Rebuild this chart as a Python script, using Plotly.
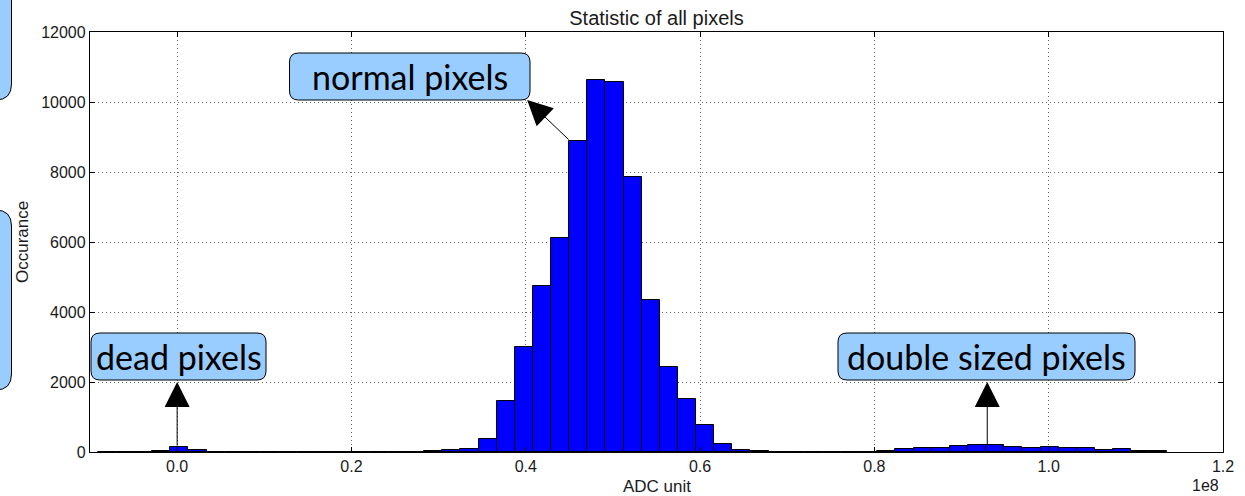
import plotly.graph_objects as go

# ---------------- data ----------------
bin_start = -9.1e6      # ADC units, left edge of first histogram bin
bin_width = 2.08e6      # ADC units
counts = [5, 8, 10, 15, 140, 55,
          3, 2, 1, 1, 1, 1, 1, 1, 2, 2, 3, 5,
          15, 48, 95, 371, 1457, 3009, 4733, 6114, 8886, 10629, 10571, 7857,
          4352, 2429, 1514, 780, 219, 48, 20,
          1, 1, 1, 2,
          8, 10, 25, 75, 110, 110, 170, 210, 190, 145, 120, 130, 110, 110, 60, 95, 20, 20]
x_tickvals = [0, 0.2e8, 0.4e8, 0.6e8, 0.8e8, 1.0e8, 1.2e8]
x_ticktext = ["0.0", "0.2", "0.4", "0.6", "0.8", "1.0", "1.2"]
y_tickvals = [0, 2000, 4000, 6000, 8000, 10000, 12000]
y_ticktext = [str(v) for v in y_tickvals]

centers = [bin_start + (i + 0.5) * bin_width for i in range(len(counts))]

# ---------------- layout geometry ----------------
W, H = 1245, 496
ML, MR, MT, MB = 90, 22, 32, 44
PW, PH = W - ML - MR, H - MT - MB


def px2paper(px, py):
    return (px - ML) / PW, (H - MB - py) / PH


def rounded_box(x0, y0, x1, y1, r=9):
    # pixel coords (y down) -> paper path
    ax0, ay1 = px2paper(x0, y0)
    ax1, ay0 = px2paper(x1, y1)
    rx, ry = r / PW, r / PH
    p = (f"M{ax0+rx},{ay1} L{ax1-rx},{ay1} Q{ax1},{ay1} {ax1},{ay1-ry} "
         f"L{ax1},{ay0+ry} Q{ax1},{ay0} {ax1-rx},{ay0} "
         f"L{ax0+rx},{ay0} Q{ax0},{ay0} {ax0},{ay0+ry} "
         f"L{ax0},{ay1-ry} Q{ax0},{ay1} {ax0+rx},{ay1} Z")
    return dict(type="path", path=p, xref="paper", yref="paper",
                fillcolor="#99ccff", line=dict(color="black", width=1),
                layer="above")


fig = go.Figure()
fig.add_trace(go.Bar(x=centers, y=counts, width=bin_width,
                     marker=dict(color="#0000ff", line=dict(color="black", width=1)),
                     showlegend=False))

TXT = "#1a1a1a"
axis_common = dict(showline=True, linecolor="black", linewidth=1.3, mirror="allticks",
                   ticks="inside", ticklen=5, tickcolor="black",
                   showgrid=True, gridcolor="#666", griddash="1px,3px", gridwidth=1,
                   zeroline=False, automargin=False,
                   tickfont=dict(family="Liberation Sans", size=16, color=TXT))

fig.update_layout(
    width=W, height=H,
    margin=dict(l=ML, r=MR, t=MT, b=MB),
    paper_bgcolor="white", plot_bgcolor="white",
    bargap=0,
    title=dict(text="Statistic of all pixels", x=(ML + PW / 2) / W, xanchor="center",
               y=1 - 18 / H, yanchor="middle", yref="container",
               font=dict(family="Liberation Sans", size=20, color=TXT)),
    xaxis=dict(range=[-0.1e8, 1.2e8], tickvals=x_tickvals, ticktext=x_ticktext,
               **axis_common),
    yaxis=dict(range=[0, 12000], tickvals=y_tickvals, ticktext=y_ticktext,
               **axis_common),
)

# axis titles placed explicitly
xp, yp = px2paper(ML + PW / 2, 487)
fig.add_annotation(text="ADC unit", x=xp, y=yp, xref="paper", yref="paper", showarrow=False,
                   xanchor="center", yanchor="middle",
                   font=dict(family="Liberation Sans", size=17, color=TXT))
xp, yp = px2paper(22, 242)
fig.add_annotation(text="Occurance", x=xp, y=yp, xref="paper", yref="paper", showarrow=False,
                   xanchor="center", yanchor="middle", textangle=-90,
                   font=dict(family="Liberation Sans", size=17, color=TXT))

shapes = [
    rounded_box(289.5, 53, 530, 100),
    rounded_box(91, 333, 266, 380),
    rounded_box(838, 333, 1135, 380),
    rounded_box(-40, -30, 11.5, 100, r=16),
    rounded_box(-40, 210, 11.5, 390, r=16),
]
fig.update_layout(shapes=shapes)

labels = [("normal pixels", (289.5 + 530) / 2, (53 + 100) / 2),
          ("dead pixels", (91 + 266) / 2, (333 + 380) / 2),
          ("double sized pixels", (838 + 1135) / 2, (333 + 380) / 2)]
for txt, cx, cy in labels:
    xp, yp = px2paper(cx, cy)
    fig.add_annotation(text=txt, x=xp, y=yp, xref="paper", yref="paper",
                       showarrow=False, xanchor="center", yanchor="middle",
                       font=dict(family="Lato", size=34, color="black"))

# arrows: head at box, tail at histogram feature
arrows = [(0.4016e8, 10057, 43, 41),
          (0.0, 2000, 0, 65),
          (0.9295e8, 2000, 0, 64)]
for x, y, axp, ayp in arrows:
    fig.add_annotation(x=x, y=y, xref="x", yref="y", ax=axp, ay=ayp, text="",
                       showarrow=True, arrowhead=2, arrowsize=5, arrowwidth=1,
                       arrowcolor="black", standoff=0)

# exponent label
xp, yp = px2paper(1205, 485)
fig.add_annotation(text="1e8", x=xp, y=yp, xref="paper", yref="paper", showarrow=False,
                   xanchor="center", yanchor="middle",
                   font=dict(family="Liberation Sans", size=16, color=TXT))

fig.write_html("out.html")
